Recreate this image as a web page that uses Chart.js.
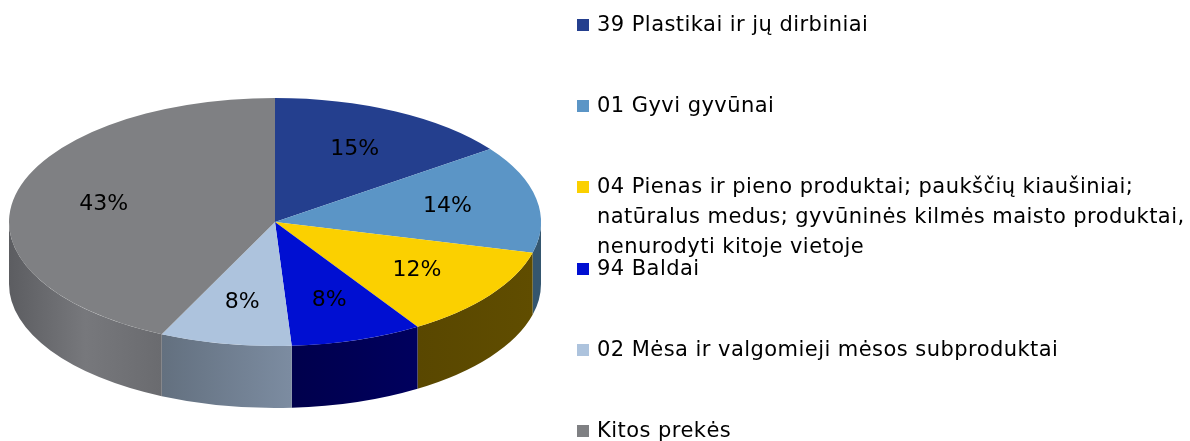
<!DOCTYPE html>
<html><head><meta charset="utf-8">
<script src="https://cdn.jsdelivr.net/npm/chart.js@4"></script>
<style>
html,body{margin:0;padding:0;background:#fff;overflow:hidden;}
#wrap{position:relative;width:1190px;height:441px;}
#c{position:absolute;left:0;top:0;}
#legend{position:absolute;left:0;top:0;width:1190px;height:441px;font-family:"DejaVu Sans",Verdana,sans-serif;font-size:21px;letter-spacing:0.45px;color:#000;}
.item{position:absolute;left:597px;line-height:30px;white-space:pre;}
.sw{position:absolute;left:-20px;top:10px;width:12px;height:12px;}
</style></head><body>
<div id="wrap"><canvas id="c" width="1190" height="441"></canvas><div id="legend"></div></div>
<script>
const categories = [
  "39 Plastikai ir jų dirbiniai",
  "01 Gyvi gyvūnai",
  "04 Pienas ir pieno produktai; paukščių kiaušiniai;\nnatūralus medus; gyvūninės kilmės maisto produktai,\nnenurodyti kitoje vietoje",
  "94 Baldai",
  "02 Mėsa ir valgomieji mėsos subproduktai",
  "Kitos prekės"
];
const shares = [15, 14, 12, 8, 8, 43];

const topColors = ['#243f8e', '#5b95c6', '#fbd000', '#000fd2', '#adc3dd', '#7f8083'];
const sideColors = [
  ['#14245a', '#14245a'],
  ['#34566f', '#34566f'],
  ['#604d00', '#594700'],
  ['#00005e', '#00004c'],
  ['#7c8ca1', '#63707f'],
  ['#6a6b6f', '#77787c', '#5c5d61']
];

const GEOM = {cx: 275, cy: 222, rx: 266, ry: 124, depth: 62, labelFactor: 0.66};
const FONT = '"DejaVu Sans", Verdana, sans-serif';

const pie3d = {
  id: 'pie3d',
  beforeDatasetsDraw(chart) {
    const ctx = chart.ctx;
    const meta = chart.getDatasetMeta(0);
    const g = GEOM;
    meta.data.forEach((arc, i) => {
      const a1 = Math.max(arc.startAngle, 0);
      const a2 = Math.min(arc.endAngle, Math.PI);
      if (a1 >= a2) return;
      const xa = g.cx + g.rx * Math.cos(a1);
      const xb = g.cx + g.rx * Math.cos(a2);
      const grad = ctx.createLinearGradient(Math.min(xa, xb), 0, Math.max(xa, xb), 0);
      const stops = sideColors[i];
      const arr = (xa > xb) ? stops.slice().reverse() : stops;
      arr.forEach((c, k) => grad.addColorStop(arr.length === 1 ? 0 : k / (arr.length - 1), c));
      ctx.save();
      ctx.beginPath();
      ctx.ellipse(g.cx, g.cy, g.rx, g.ry, 0, a1, a2, false);
      ctx.ellipse(g.cx, g.cy + g.depth, g.rx, g.ry, 0, a2, a1, true);
      ctx.closePath();
      ctx.fillStyle = grad;
      ctx.fill();
      ctx.restore();
    });
    const a0 = meta.data[0];
    const r0 = a0.outerRadius;
    ctx.save();
    ctx.translate(g.cx, g.cy);
    ctx.scale(g.rx / r0, g.ry / r0);
    ctx.translate(-a0.x, -a0.y);
  },
  afterDatasetsDraw(chart) {
    const ctx = chart.ctx;
    ctx.restore();
    const meta = chart.getDatasetMeta(0);
    const g = GEOM;
    const data = chart.data.datasets[0].data;
    ctx.save();
    ctx.font = '22px ' + FONT;
    ctx.fillStyle = '#000';
    ctx.textAlign = 'center';
    ctx.textBaseline = 'middle';
    meta.data.forEach((arc, i) => {
      const mid = (arc.startAngle + arc.endAngle) / 2;
      const x = g.cx + g.labelFactor * g.rx * Math.cos(mid);
      const y = g.cy + g.labelFactor * g.ry * Math.sin(mid);
      ctx.fillText(data[i] + '%', x, y);
    });
    ctx.restore();
  }
};

new Chart(document.getElementById('c'), {
  type: 'pie',
  data: {
    labels: categories,
    datasets: [{
      data: shares,
      backgroundColor: topColors,
      borderWidth: 0,
      clip: false
    }]
  },
  options: {
    responsive: false,
    animation: false,
    layout: {padding: {left: 75, right: 715, top: 20, bottom: 21}},
    plugins: {legend: {display: false}, tooltip: {enabled: false}}
  },
  plugins: [pie3d]
});

const legend = document.getElementById('legend');
categories.forEach((label, i) => {
  const item = document.createElement('div');
  item.className = 'item';
  item.style.top = (9 + i * 81.2) + 'px';
  const sw = document.createElement('span');
  sw.className = 'sw';
  sw.style.background = topColors[i];
  item.appendChild(sw);
  item.appendChild(document.createTextNode(label));
  legend.appendChild(item);
});
</script>
</body></html>
